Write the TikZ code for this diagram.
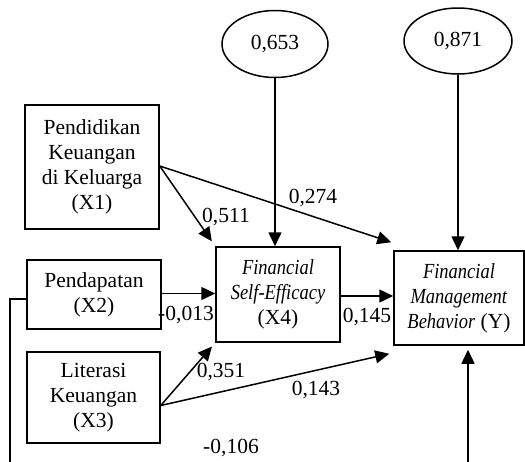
\documentclass[tikz,border=0pt]{standalone}
\usepackage{fontspec}
\usepackage{graphicx}
\setmainfont{Liberation Serif}
\usetikzlibrary{shapes.geometric,arrows.meta,calc}
\newcommand{\itc}[1]{\scalebox{0.86}[1]{\textit{#1}}}
\begin{document}
\begin{tikzpicture}[x=1pt,y=-1pt,
  every node/.style={font=\fontsize{21.5}{25}\selectfont},
  box/.style={draw,line width=1.5pt,rectangle,align=center,inner sep=0pt},
  oval/.style={draw,line width=1.5pt,ellipse,inner sep=0pt},
  arr/.style={line width=1.5pt,-{Triangle[length=14pt,width=13pt]}},
  lab/.style={inner sep=0pt}]
\useasboundingbox (0,0) rectangle (525,461);
\clip (0,0) rectangle (525,461);
\node[oval,minimum width=106pt,minimum height=67pt] (e1) at (275,44) {0,653};
\node[oval,minimum width=108pt,minimum height=66pt] (e2) at (458,41) {0,871};
\node[box,minimum width=134pt,minimum height=124pt] (X1) at (92,167) {Pendidikan\\Keuangan\\di Keluarga\\(X1)};
\node[box,minimum width=134pt,minimum height=69pt] (X2) at (94,294.5) {Pendapatan\\(X2)};
\node[box,minimum width=133pt,minimum height=91pt] (X3) at (93.5,397.5) {Literasi\\Keuangan\\(X3)};
\node[box,minimum width=124pt,minimum height=95pt] (X4) at (278,294.5) {\itc{Financial}\\\itc{Self-Efficacy}\\(X4)};
\node[box,minimum width=130pt,minimum height=94pt] (Y) at (459,298) {\itc{Financial}\\\itc{Management}\\\itc{Behavior} (Y)};
\coordinate (x1o) at ($(X1.east)+(0,-1)$);
\coordinate (x3o) at ($(X3.east)+(0,8)$);
\coordinate (x2o) at ($(X2.east)+(0,-1)$);
\coordinate (x4i) at (x2o -| X4.west);
\coordinate (x4o) at ($(X4.east)+(0,1.5)$);
\coordinate (yi) at (x4o -| Y.west);
\coordinate (x2l) at ($(X2.west)+(0,4.5)$);
\draw[arr] (e1.south) -- (e1.south |- X4.north);
\draw[arr] (e2.south) -- (e2.south |- Y.north);
\draw[arr,shorten >=6pt] (x1o) -- (X4.north west);
\draw[arr] (x1o) -- ($(Y.north west)+(-2,-8)$);
\draw[arr] (x2o) -- (x4i);
\draw[arr,shorten >=5pt] (x3o) -- (X4.south west);
\draw[arr] (x3o) -- ($(Y.south west)+(-4,8)$);
\draw[arr] (x4o) -- (yi);
\coordinate (bl) at (10,480);
\coordinate (br) at (468,480);
\draw[arr,shorten >=4pt] (x2l) -| (bl) -- (br) -- (br |- Y.south);
\node[lab] (l1) at (226,217) {0,511};
\node[lab] (l2) at (313,198) {0,274};
\node[lab] (l3) at (186,315) {-0,013};
\node[lab] (l4) at (367,317) {0,145};
\node[lab] (l5) at (221,372) {0,351};
\node[lab] (l6) at (316,390) {0,143};
\node[lab] (l7) at (231,448) {-0,106};
\end{tikzpicture}
\end{document}
